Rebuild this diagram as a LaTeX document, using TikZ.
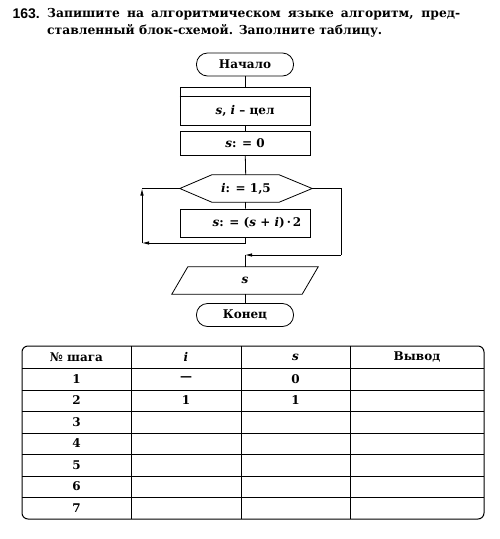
\documentclass[tikz,border=0pt]{standalone}
\usepackage{fontspec}
\setmainfont{DejaVu Serif}
\newfontfamily\numfont{Liberation Sans}
\usetikzlibrary{arrows.meta}
\tikzset{
  every node/.style={font=\bfseries\fontsize{12}{14}\selectfont},
  line/.style={line width=0.8pt},
  arr/.style={line width=0.8pt,-{Latex[length=7pt,width=3.5pt]}},
  term/.style={draw,line width=0.8pt,rounded corners=11pt,minimum width=97pt,minimum height=23pt,inner sep=0pt},
  blk/.style={draw,line width=0.8pt,minimum width=130pt,inner sep=0pt},
  ghost/.style={minimum width=#1,minimum height=27pt,inner sep=0pt},
  cell/.style={font=\bfseries\fontsize{12}{14}\selectfont}
}
\begin{document}
\begin{tikzpicture}[x=1pt,y=-1pt]
\useasboundingbox (0,0) rectangle (500,539);
% task text
\node[anchor=west,font=\numfont\bfseries\fontsize{14}{16}\selectfont] (num) at (9,14) {163.};
\node[anchor=west,inner sep=0pt,font=\bfseries\fontsize{12.3}{14}\selectfont] (l1) at (47,14)
  {\makebox[413pt][s]{Запишите на алгоритмическом языке алгоритм, пред-}};
\node[anchor=west,inner sep=0pt,font=\bfseries\fontsize{12.3}{14}\selectfont] (l2) at (47,31)
  {ставленный блок-схемой. Заполните таблицу.};
% flowchart
\node[term] (start) at (245,64.5) {Начало};
\node[blk,minimum height=38pt] (decl) at (245,106) {};
\draw[line] ([yshift=-10pt]decl.north west) -- ([yshift=-10pt]decl.north east);
\node (decltxt) at (245,111) {{\itshape s}, {\itshape i} – цел};
\node[blk,minimum height=24pt] (init) at (245,143) {{\itshape s}: = 0};
\node[ghost=132pt] (hex) at (246,188.5) {{\itshape i}: = 1,5};
\draw[line] (hex.west) -- ([xshift=32pt]hex.north west) -- ([xshift=-33pt]hex.north east)
  -- (hex.east) -- ([xshift=-33pt]hex.south east) -- ([xshift=32pt]hex.south west) -- cycle;
\node[blk,minimum height=28pt] (body) at (245,223) {\hspace{24pt}{\itshape s}: = ({\itshape s} + {\itshape i})\,·\,2};
\node[ghost=146pt] (out) at (245,280.5) {{\itshape s}};
\draw[line] ([xshift=16pt]out.north west) -- (out.north east) -- ([xshift=-16pt]out.south east)
  -- (out.south west) -- cycle;
\node[term] (stop) at (245,315) {Конец};
\coordinate (lb) at (142,243);
\coordinate (lt) at (142,188.5);
\coordinate (er) at (341,188.5);
\coordinate (eb) at (341,255);
\coordinate (ej) at (245,255);
\draw[line] (start) -- (decl);
\draw[line] (decl) -- (init);
\draw[line] (init) -- (hex);
\draw[line] (hex) -- (body);
\draw[arr] (body.south) |- (lb);
\draw[arr] (lb) -- (lt);
\draw[line] (lt) -- (hex.west);
\draw[line] (hex.east) -- (er) -- (eb);
\draw[arr] (eb) -- (ej);
\draw[line] (ej) -- (out.north);
\draw[line] (out.south) -- (stop);
% table
\draw[line width=1pt,rounded corners=6pt] (22,346) rectangle (484,519);
\foreach \x in {131,241,350} \draw[line] (\x,346) -- (\x,519);
\foreach \y in {368,390,411,433,454,476,497} \draw[line] (22,\y) -- (484,\y);
\node[cell] (h1) at (76.5,357) {№ шага};
\node[cell] (h2) at (186,357) {\itshape i};
\node[cell] (h3) at (295.5,357) {\itshape s};
\node[cell] (h4) at (417,357) {Вывод};
\foreach \n/\y in {1/379,2/400.5,3/422,4/443.5,5/465,6/486.5,7/508}
  \node[cell] (r\n) at (76.5,\y) {\n};
\node[cell] (i1) at (186,379) {—};
\node[cell] (s1) at (295.5,379) {0};
\node[cell] (i2) at (186,400.5) {1};
\node[cell] (s2) at (295.5,400.5) {1};
\end{tikzpicture}
\end{document}
